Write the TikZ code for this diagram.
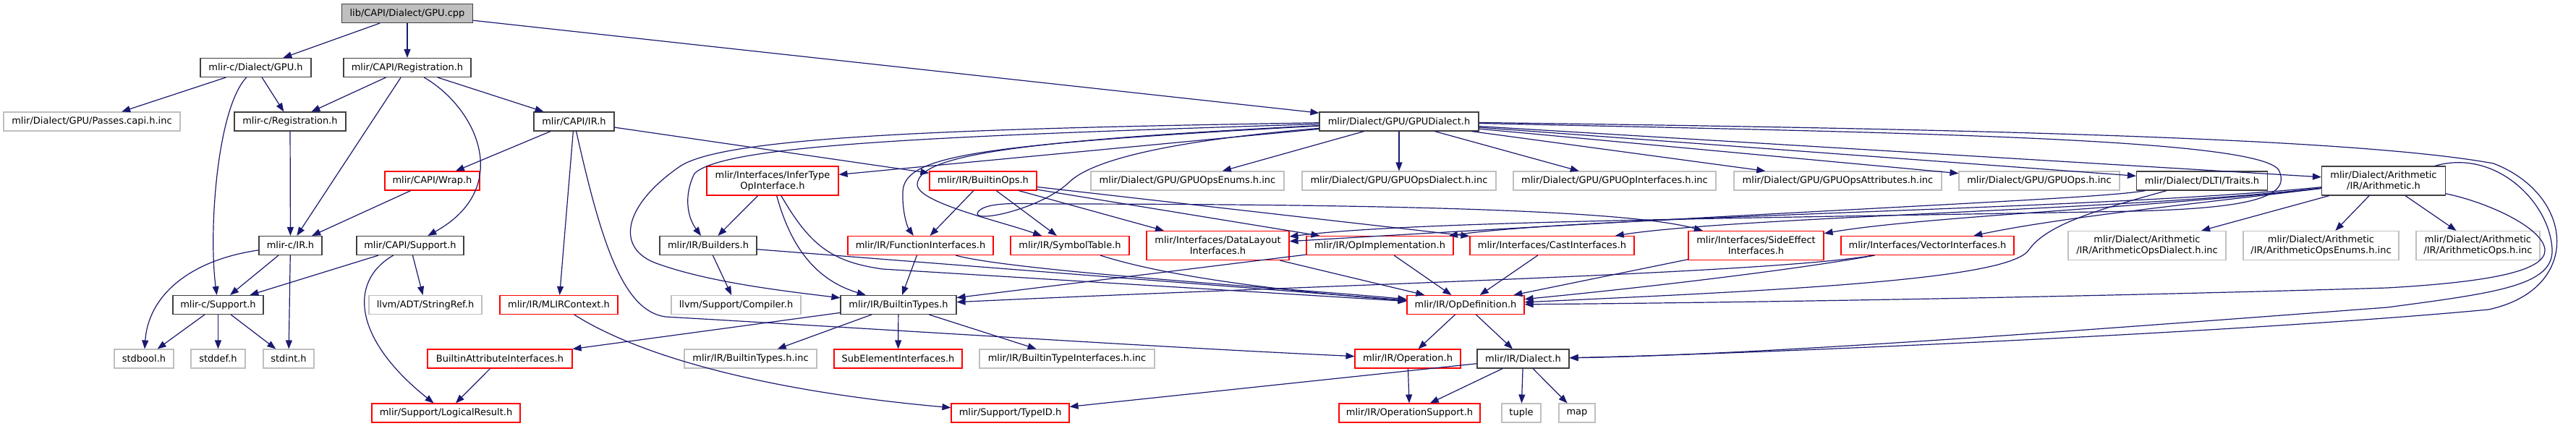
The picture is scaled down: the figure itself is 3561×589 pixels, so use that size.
\documentclass[tikz,border=0pt]{standalone}
\usepackage{fontspec}
\usetikzlibrary{arrows.meta}
\newfontfamily\djsans{DejaVu Sans}
\newcommand\nodefont{\djsans\fontsize{13}{15}\selectfont}
\definecolor{edgec}{HTML}{191970}
\definecolor{greyb}{HTML}{BFBFBF}
\definecolor{darkb}{HTML}{404040}
\tikzset{
  box/.style={rectangle, inner sep=0pt, minimum height=26pt, line width=1.1pt, font=\nodefont, text=black, align=center},
  blk/.style={box, draw=darkb},
  gry/.style={box, draw=greyb},
  rd/.style={box, draw=red},
  rootbox/.style={box, draw=darkb, fill=greyb},
  tall/.style={minimum height=40pt},
  edge/.style={draw=edgec, line width=1.2pt, line join=round, -{Triangle[length=12pt,width=9pt]}}
}
\begin{document}
\begin{tikzpicture}[x=1pt,y=-1pt]
\fill[white] (0,0) rectangle (3561,589);
\useasboundingbox (0,0) rectangle (3561,589);
% row 0-2
\node[rootbox, minimum width=181pt] (root) at (563,18.5) {lib/CAPI/Dialect/GPU.cpp};
\node[blk, minimum width=153pt] (cgpu) at (353.5,93.5) {mlir-c/Dialect/GPU.h};
\node[blk, minimum width=176pt] (capireg) at (563,93.5) {mlir/CAPI/Registration.h};
\node[gry, minimum width=244pt] (passes) at (127,168) {mlir/Dialect/GPU/Passes.capi.h.inc};
\node[blk, minimum width=154pt] (creg) at (401,168) {mlir-c/Registration.h};
\node[blk, minimum width=111pt] (capiir) at (793.5,168) {mlir/CAPI/IR.h};
\node[blk, minimum width=220pt] (gpudialect) at (1934,168) {mlir/Dialect/GPU/GPUDialect.h};
% row 3
\node[rd, minimum width=131pt] (wrap) at (597.5,250) {mlir/CAPI/Wrap.h};
\node[rd, tall, minimum width=182pt] (infer) at (1068,250) {mlir/Interfaces/InferType\\OpInterface.h};
\node[rd, minimum width=148pt] (builtinops) at (1359,250) {mlir/IR/BuiltinOps.h};
\node[gry, minimum width=267pt] (opsenums) at (1641.5,250) {mlir/Dialect/GPU/GPUOpsEnums.h.inc};
\node[gry, minimum width=268pt] (opsdialect) at (1934,250) {mlir/Dialect/GPU/GPUOpsDialect.h.inc};
\node[gry, minimum width=280pt] (opinterfaces) at (2232,250) {mlir/Dialect/GPU/GPUOpInterfaces.h.inc};
\node[gry, minimum width=287pt] (opsattrs) at (2540.5,250) {mlir/Dialect/GPU/GPUOpsAttributes.h.inc};
\node[gry, minimum width=222pt] (gpuops) at (2819,250) {mlir/Dialect/GPU/GPUOps.h.inc};
\node[blk, minimum width=181pt] (traits) at (3044,250) {mlir/Dialect/DLTI/Traits.h};
\node[blk, tall, minimum width=171pt] (arith) at (3295,250) {mlir/Dialect/Arithmetic\\/IR/Arithmetic.h};
% row 4
\node[blk, minimum width=87pt] (cir) at (401.5,339.5) {mlir-c/IR.h};
\node[blk, minimum width=148pt] (capisupport) at (567,339.5) {mlir/CAPI/Support.h};
\node[blk, minimum width=134pt] (builders) at (979,339.5) {mlir/IR/Builders.h};
\node[rd, minimum width=201pt] (funcif) at (1272.5,339.5) {mlir/IR/FunctionInterfaces.h};
\node[rd, minimum width=164pt] (symtab) at (1479,339.5) {mlir/IR/SymbolTable.h};
\node[rd, tall, minimum width=197pt] (datalayout) at (1683.5,339.5) {mlir/Interfaces/DataLayout\\Interfaces.h};
\node[rd, minimum width=203pt] (opimpl) at (1907.5,339.5) {mlir/IR/OpImplementation.h};
\node[rd, minimum width=227pt] (cast) at (2145.5,339.5) {mlir/Interfaces/CastInterfaces.h};
\node[rd, tall, minimum width=187pt] (sideeffect) at (2427.5,339.5) {mlir/Interfaces/SideEffect\\Interfaces.h};
\node[rd, minimum width=239pt] (vector) at (2664.5,339.5) {mlir/Interfaces/VectorInterfaces.h};
\node[gry, tall, minimum width=218pt] (arithdialect) at (2968,339.5) {mlir/Dialect/Arithmetic\\/IR/ArithmeticOpsDialect.h.inc};
\node[gry, tall, minimum width=215pt] (arithenums) at (3208.5,339.5) {mlir/Dialect/Arithmetic\\/IR/ArithmeticOpsEnums.h.inc};
\node[gry, tall, minimum width=171pt] (arithops) at (3425.5,339.5) {mlir/Dialect/Arithmetic\\/IR/ArithmeticOps.h.inc};
% row 5
\node[blk, minimum width=125pt] (csupport) at (301.5,421.5) {mlir-c/Support.h};
\node[gry, minimum width=156pt] (stringref) at (588,421.5) {llvm/ADT/StringRef.h};
\node[rd, minimum width=163pt] (mlircontext) at (772.5,421.5) {mlir/IR/MLIRContext.h};
\node[gry, minimum width=179pt] (compiler) at (1017.5,421.5) {llvm/Support/Compiler.h};
\node[blk, minimum width=160pt] (builtintypes) at (1242,421.5) {mlir/IR/BuiltinTypes.h};
\node[rd, minimum width=162pt] (opdef) at (2026,421.5) {mlir/IR/OpDefinition.h};
% row 6
\node[gry, minimum width=82pt] (stdbool) at (199,496) {stdbool.h};
\node[gry, minimum width=75pt] (stddef) at (301.5,496) {stddef.h};
\node[gry, minimum width=70pt] (stdint) at (399,496) {stdint.h};
\node[rd, minimum width=200pt] (battrif) at (691,496) {BuiltinAttributeInterfaces.h};
\node[gry, minimum width=183pt] (btypesinc) at (1037.5,496) {mlir/IR/BuiltinTypes.h.inc};
\node[rd, minimum width=177pt] (subelem) at (1241.5,496) {SubElementInterfaces.h};
\node[gry, minimum width=242pt] (btypeifinc) at (1475,496) {mlir/IR/BuiltinTypeInterfaces.h.inc};
\node[rd, minimum width=146pt] (operation) at (1946,496) {mlir/IR/Operation.h};
\node[blk, minimum width=127pt] (dialect) at (2105.5,496) {mlir/IR/Dialect.h};
% row 7
\node[rd, minimum width=205pt] (logicalresult) at (616.5,571) {mlir/Support/LogicalResult.h};
\node[rd, minimum width=163pt] (typeid) at (1396.5,571) {mlir/Support/TypeID.h};
\node[rd, minimum width=195pt] (opsupport) at (1948.5,571) {mlir/IR/OperationSupport.h};
\node[gry, minimum width=54pt] (tuple) at (2103,571) {tuple};
\node[gry, minimum width=50pt] (map) at (2180,571) {map};

% ---- edges: left part
\draw[edge] (root) -- (cgpu);
\draw[edge] (root) -- (capireg);
\draw[edge] (root) -- (gpudialect);
\draw[edge] (cgpu) -- (passes);
\draw[edge] (cgpu) -- (creg);
\draw[edge] (cgpu) .. controls (300,150) and (288,320) .. (csupport);
\draw[edge] (capireg) -- (creg);
\draw[edge] (capireg) -- (cir);
\draw[edge] (capireg) .. controls (660,150) and (710,260) .. (capisupport);
\draw[edge] (capireg) -- (capiir);
\draw[edge] (creg) -- (cir);
\draw[edge] (capiir) -- (wrap);
\draw[edge] (capiir) -- (mlircontext);
\draw[edge] (capiir) .. controls (830,330) and (860,430) .. (920,438) .. controls (1300,460) and (1600,480) .. (operation);
\draw[edge] (capiir) -- (builtinops);
\draw[edge] (wrap) -- (cir);
\draw[edge] (cir) .. controls (260,360) and (205,410) .. (stdbool);
\draw[edge] (cir) -- (csupport);
\draw[edge] (cir) -- (stdint);
\draw[edge] (capisupport) -- (csupport);
\draw[edge] (capisupport) -- (stringref);
\draw[edge] (capisupport) .. controls (480,390) and (490,470) .. (logicalresult);
\draw[edge] (csupport) -- (stdbool);
\draw[edge] (csupport) -- (stddef);
\draw[edge] (csupport) -- (stdint);
\draw[edge] (mlircontext) .. controls (880,490) and (1050,540) .. (typeid);
\draw[edge] (battrif) -- (logicalresult);
% ---- builtin types
\draw[edge] (builtintypes) -- (battrif);
\draw[edge] (builtintypes) -- (btypesinc);
\draw[edge] (builtintypes) -- (subelem);
\draw[edge] (builtintypes) -- (btypeifinc);
\draw[edge] (builders) -- (compiler);
\draw[edge] (builders) -- (opdef);
\draw[edge] (infer) -- (builders);
\draw[edge] (infer) .. controls (1090,330) and (1120,385) .. (builtintypes);
\draw[edge] (infer) .. controls (1120,340) and (1150,362) .. (1220,372) -- (opdef);
\draw[edge] (builtinops) -- (funcif);
\draw[edge] (builtinops) -- (symtab);
\draw[edge] (builtinops) -- (datalayout);
\draw[edge] (builtinops) -- (opimpl);
\draw[edge] (builtinops) -- (cast);
\draw[edge] (funcif) -- (builtintypes);
\draw[edge] (funcif) .. controls (1400,375) and (1800,400) .. (opdef);
\draw[edge] (symtab) .. controls (1620,385) and (1800,405) .. (opdef);
\draw[edge] (datalayout) -- (opdef);
\draw[edge] (opimpl) -- (opdef);
\draw[edge] (opimpl) -- (builtintypes);
\draw[edge] (cast) -- (opdef);
\draw[edge] (sideeffect) -- (opdef);
\draw[edge] (vector) .. controls (2500,370) and (2300,395) .. (opdef);
\draw[edge] (vector) .. controls (2450,378) and (1800,395) .. (builtintypes);
\draw[edge] (opdef) -- (operation);
\draw[edge] (opdef) -- (dialect);
\draw[edge] (operation) -- (opsupport);
\draw[edge] (dialect) -- (opsupport);
\draw[edge] (dialect) -- (tuple);
\draw[edge] (dialect) -- (map);
\draw[edge] (dialect) -- (typeid);
% ---- GPUDialect
\draw[edge] (gpudialect) -- (opsenums);
\draw[edge] (gpudialect) -- (opsdialect);
\draw[edge] (gpudialect) -- (opinterfaces);
\draw[edge] (gpudialect) -- (opsattrs);
\draw[edge] (gpudialect) -- (gpuops);
\draw[edge] (gpudialect) -- (traits);
\draw[edge] (gpudialect) -- (arith);
\draw[edge] (gpudialect) -- (infer);
\draw[edge] (gpudialect) .. controls (1300,188) and (1000,200) .. (960,240) .. controls (945,270) and (950,300) .. (builders);
\draw[edge] (gpudialect) .. controls (1300,178) and (1000,190) .. (940,230) .. controls (860,285) and (850,345) .. (910,365) .. controls (980,390) and (1080,402) .. (builtintypes);
\draw[edge] (gpudialect) .. controls (1350,200) and (1250,215) .. (1248,265) .. controls (1247,295) and (1255,315) .. (funcif);
\draw[edge] (gpudialect) .. controls (1400,195) and (1270,215) .. (1268,255) .. controls (1268,280) and (1380,305) .. (symtab);
\draw[edge] (gpudialect) .. controls (1650,192) and (1520,215) .. (1480,250) .. controls (1440,290) and (1340,310) .. (1352,293) .. controls (1362,280) and (1400,281) .. (1440,282) .. controls (1900,282) and (2250,290) .. (sideeffect);
\draw[edge] (gpudialect) .. controls (2600,183) and (3120,190) .. (3150,235) .. controls (3170,275) and (3100,288) .. (2950,292) .. controls (2400,302) and (1950,306) .. (datalayout);
\draw[edge] (gpudialect) .. controls (2700,178) and (3250,190) .. (3447,226) .. controls (3560,270) and (3570,400) .. (3440,428) .. controls (3100,460) and (2400,490) .. (dialect);
% ---- Traits
\draw[edge] (traits) .. controls (2900,275) and (2600,285) .. (datalayout);
\draw[edge] (traits) .. controls (2900,290) and (2830,310) .. (2805,345) .. controls (2780,385) and (2500,400) .. (opdef);
% ---- Arithmetic
\draw[edge] (arith) -- (arithdialect);
\draw[edge] (arith) -- (arithenums);
\draw[edge] (arith) -- (arithops);
\draw[edge] (arith) .. controls (3050,280) and (2850,300) .. (vector);
\draw[edge] (arith) .. controls (3000,285) and (2650,300) .. (sideeffect);
\draw[edge] (arith) .. controls (2950,290) and (2400,300) .. (cast);
\draw[edge] (arith) .. controls (2900,290) and (2200,298) .. (opimpl);
\draw[edge] (arith) .. controls (3450,205) and (3525,280) .. (3528,345) .. controls (3530,395) and (3450,405) .. (3300,425) .. controls (2900,455) and (2450,490) .. (dialect);
\draw[edge] (arith) .. controls (3440,280) and (3515,315) .. (3518,345) .. controls (3520,375) and (3440,390) .. (3300,398) .. controls (2900,410) and (2450,418) .. (opdef);
\end{tikzpicture}
\end{document}
